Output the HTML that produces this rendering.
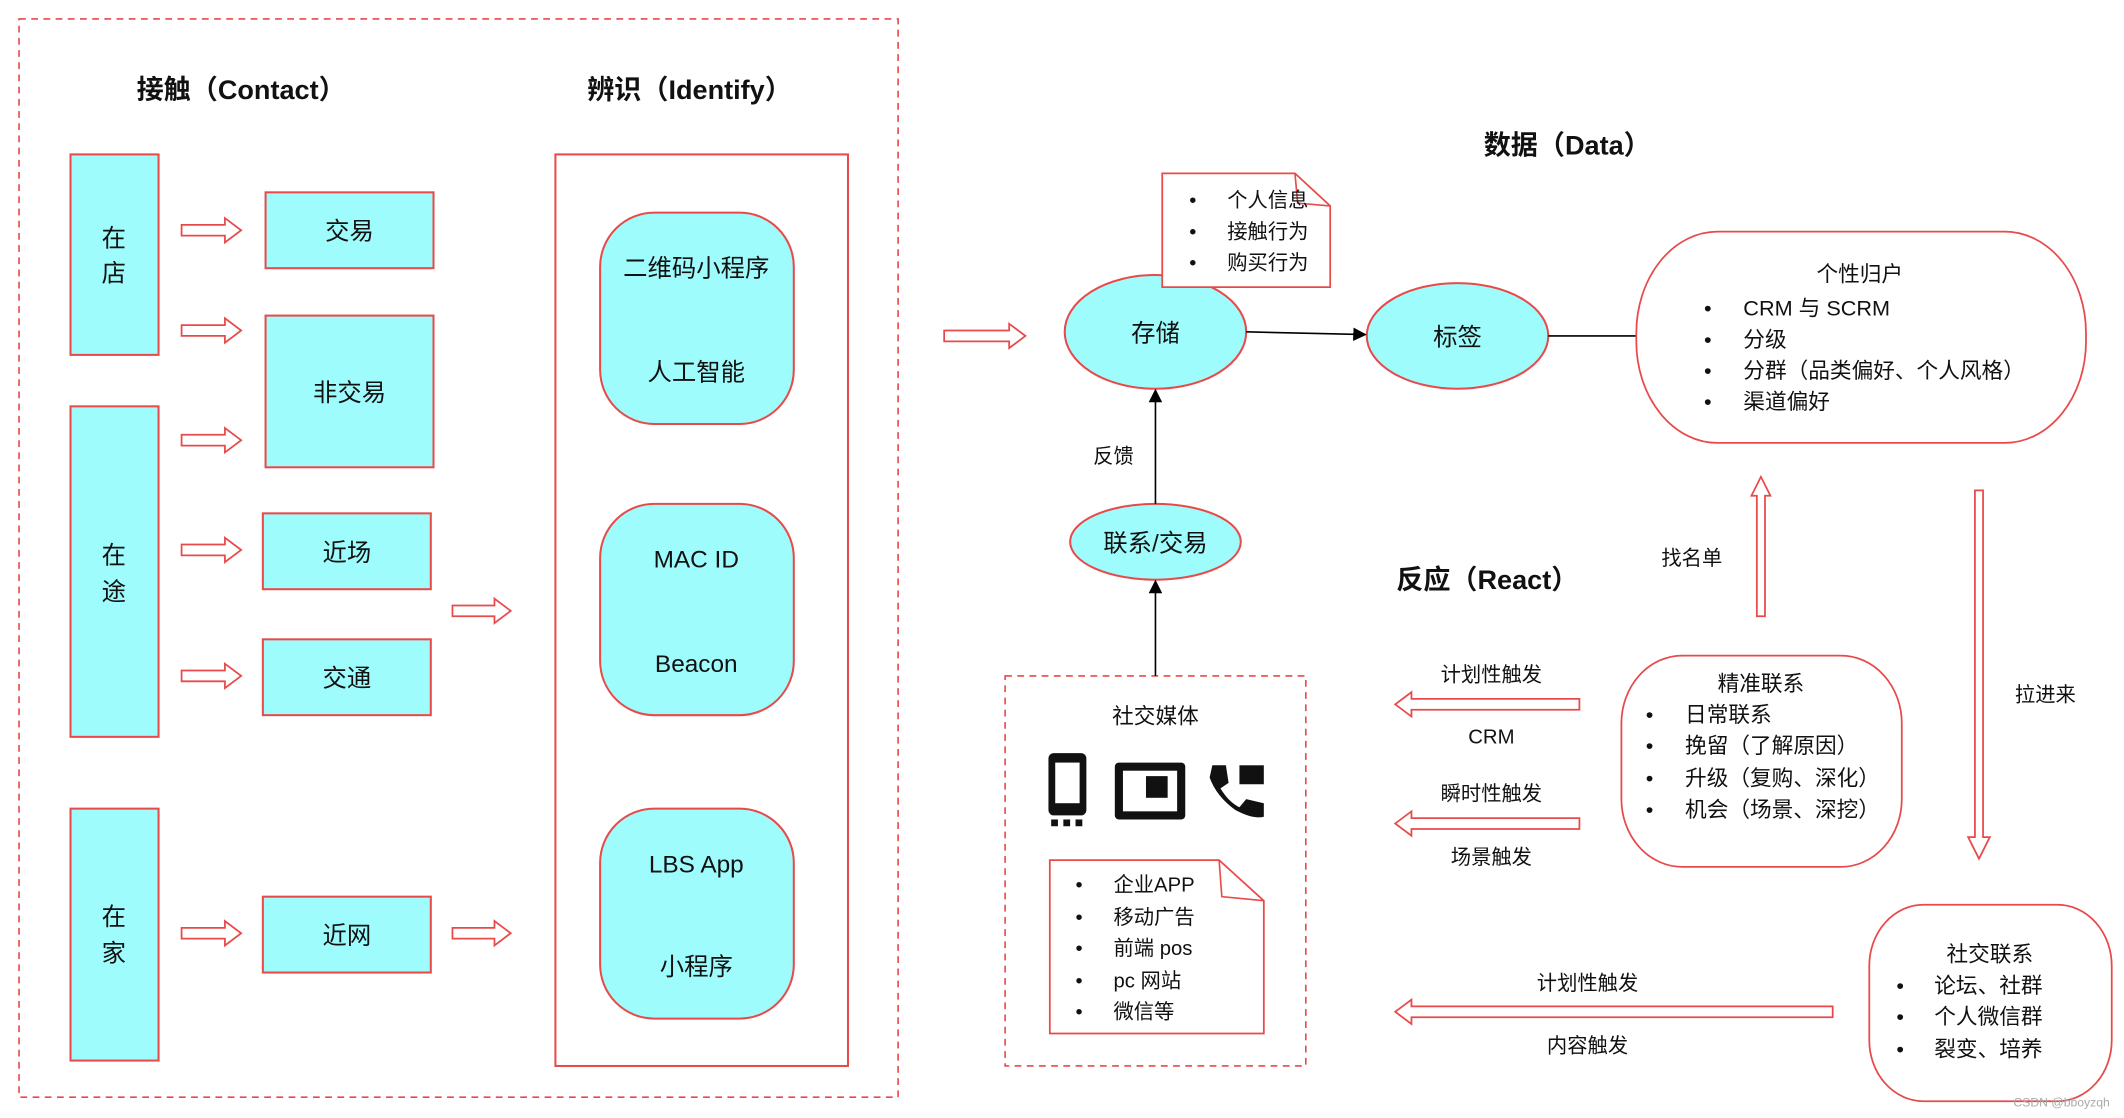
<!DOCTYPE html>
<html><head><meta charset="utf-8"><style>
html,body{margin:0;padding:0;background:#fff;}
svg{display:block;}
text{font-family:"Liberation Sans","Noto Sans CJK SC",sans-serif;fill:#111;}
</style></head><body>
<svg width="2124" height="1118" viewBox="0 0 1568 825.4" xmlns="http://www.w3.org/2000/svg">
<defs>
<marker id="ah" markerWidth="10" markerHeight="10" refX="9" refY="5" orient="auto" markerUnits="userSpaceOnUse"><path d="M0,0 L10,5 L0,10 z" fill="#000"/></marker>
</defs>
<g fill="none" stroke="#e84a4a" stroke-width="1.2">
<rect x="14" y="14" width="649" height="796" stroke-dasharray="5,4"/>
<rect x="742" y="499" width="222" height="288" stroke-dasharray="5,4"/>
</g>
<g font-size="20" font-weight="bold" text-anchor="middle">
<text x="178" y="73">接触（Contact）</text>
<text x="509" y="73">辨识（Identify）</text>
<text x="1157" y="114">数据（Data）</text>
<text x="1098" y="435">反应（React）</text>
</g>
<g fill="#9ffcfc" stroke="#e84a4a" stroke-width="1.5">
<rect x="52" y="114" width="65" height="148"/>
<rect x="52" y="300" width="65" height="244"/>
<rect x="52" y="597" width="65" height="186"/>
<rect x="196" y="142" width="124" height="56"/>
<rect x="196" y="233" width="124" height="112"/>
<rect x="194" y="379" width="124" height="56"/>
<rect x="194" y="472" width="124" height="56"/>
<rect x="194" y="662" width="124" height="56"/>
</g>
<rect x="410" y="114" width="216" height="673" fill="#fff" stroke="#e84a4a" stroke-width="1.5"/>
<g fill="#9ffcfc" stroke="#e84a4a" stroke-width="1.5">
<rect x="443" y="157" width="143" height="156" rx="40"/>
<rect x="443" y="372" width="143" height="156" rx="40"/>
<rect x="443" y="597" width="143" height="155" rx="40"/>
<ellipse cx="853" cy="245" rx="67" ry="42"/>
<ellipse cx="1076" cy="248" rx="67" ry="39"/>
<ellipse cx="853" cy="400" rx="63" ry="28"/>
</g>
<g font-size="18" text-anchor="middle">
<text x="84" y="182">在</text><text x="84" y="208">店</text>
<text x="84" y="416">在</text><text x="84" y="443">途</text>
<text x="84" y="683">在</text><text x="84" y="710">家</text>
<text x="258" y="177">交易</text>
<text x="258" y="296">非交易</text>
<text x="256" y="414">近场</text>
<text x="256" y="507">交通</text>
<text x="256" y="697">近网</text>
<text x="514" y="204">二维码小程序</text>
<text x="514" y="281">人工智能</text>
<text x="514" y="419">MAC ID</text>
<text x="514" y="496">Beacon</text>
<text x="514" y="644">LBS App</text>
<text x="514" y="720">小程序</text>
<text x="853" y="252">存储</text>
<text x="1076" y="255">标签</text>
<text x="853" y="407">联系/交易</text>
</g>
<!-- hollow arrows -->
<g fill="#fff" stroke="#e84a4a" stroke-width="1.3">
<path d="M134,166 L166,166 L166,161 L178,170 L166,179 L166,174 L134,174 Z"/>
<path d="M134,240 L166,240 L166,235 L178,244 L166,253 L166,248 L134,248 Z"/>
<path d="M134,321 L166,321 L166,316 L178,325 L166,334 L166,329 L134,329 Z"/>
<path d="M134,402 L166,402 L166,397 L178,406 L166,415 L166,410 L134,410 Z"/>
<path d="M134,495 L166,495 L166,490 L178,499 L166,508 L166,503 L134,503 Z"/>
<path d="M134,685 L166,685 L166,680 L178,689 L166,698 L166,693 L134,693 Z"/>
<path d="M334,447 L365,447 L365,442 L377,451 L365,460 L365,455 L334,455 Z"/>
<path d="M334,685 L365,685 L365,680 L377,689 L365,698 L365,693 L334,693 Z"/>
<path d="M697,244 L745,244 L745,239 L757,248 L745,257 L745,252 L697,252 Z"/>
<path d="M1166,516 L1042,516 L1042,511 L1030,520 L1042,529 L1042,524 L1166,524 Z"/>
<path d="M1166,604 L1042,604 L1042,599 L1030,608 L1042,617 L1042,612 L1166,612 Z"/>
<path d="M1353,743 L1042,743 L1042,738 L1030,747 L1042,756 L1042,751 L1353,751 Z"/>
<path d="M1297,455 L1297,366 L1293,366 L1300,352 L1307,366 L1303,366 L1303,455 Z"/>
<path d="M1458,362 L1458,618 L1453,618 L1461,634 L1469,618 L1464,618 L1464,362 Z"/>
</g>
<!-- data doc -->
<path d="M858,128 L956,128 L982,152 L982,212 L858,212 Z" fill="#fff" stroke="#e84a4a" stroke-width="1.3"/>
<path d="M956,128 L958,150 L982,152" fill="none" stroke="#e84a4a" stroke-width="1.2"/>
<g font-size="15">
<text x="878" y="153">•</text><text x="906" y="153">个人信息</text>
<text x="878" y="176">•</text><text x="906" y="176">接触行为</text>
<text x="878" y="199">•</text><text x="906" y="199">购买行为</text>
</g>
<g stroke="#000" stroke-width="1.2" fill="none">
<line x1="920" y1="245" x2="1008" y2="247" marker-end="url(#ah)"/>
<line x1="1143" y1="248" x2="1208" y2="248"/>
<line x1="853" y1="372" x2="853" y2="288" marker-end="url(#ah)"/>
<line x1="853" y1="499" x2="853" y2="429" marker-end="url(#ah)"/>
</g>
<text x="822" y="342" font-size="15" text-anchor="middle">反馈</text>
<!-- rounded big boxes -->
<g fill="#fff" stroke="#e84a4a" stroke-width="1.3">
<rect x="1208" y="171" width="332" height="156" rx="60" ry="75"/>
<rect x="1197" y="484" width="207" height="156" rx="45" ry="50"/>
<rect x="1380" y="668" width="179" height="145" rx="40" ry="45"/>
</g>
<g font-size="16">
<text x="1373" y="208" text-anchor="middle">个性归户</text>
<text x="1258" y="233">•</text><text x="1287" y="233">CRM 与 SCRM</text>
<text x="1258" y="256">•</text><text x="1287" y="256">分级</text>
<text x="1258" y="279">•</text><text x="1287" y="279">分群（品类偏好、个人风格）</text>
<text x="1258" y="302">•</text><text x="1287" y="302">渠道偏好</text>
<text x="1300" y="510" text-anchor="middle">精准联系</text>
<text x="1215" y="533">•</text><text x="1244" y="533">日常联系</text>
<text x="1215" y="556">•</text><text x="1244" y="556">挽留（了解原因）</text>
<text x="1215" y="580">•</text><text x="1244" y="580">升级（复购、深化）</text>
<text x="1215" y="603">•</text><text x="1244" y="603">机会（场景、深挖）</text>
<text x="1469" y="710" text-anchor="middle">社交联系</text>
<text x="1400" y="733">•</text><text x="1428" y="733">论坛、社群</text>
<text x="1400" y="756">•</text><text x="1428" y="756">个人微信群</text>
<text x="1400" y="780">•</text><text x="1428" y="780">裂变、培养</text>
</g>
<g font-size="15" text-anchor="middle">
<text x="1249" y="417">找名单</text>
<text x="1510" y="518">拉进来</text>
<text x="1101" y="503">计划性触发</text>
<text x="1101" y="549">CRM</text>
<text x="1101" y="591">瞬时性触发</text>
<text x="1101" y="638">场景触发</text>
<text x="1172" y="731">计划性触发</text>
<text x="1172" y="777">内容触发</text>
</g>
<!-- social media -->
<text x="853" y="534" font-size="16" text-anchor="middle">社交媒体</text>
<g fill="#111">
<rect x="774" y="556" width="28" height="46" rx="4"/>
<rect x="779" y="563" width="18" height="30" fill="#fff"/>
<rect x="776" y="605" width="5" height="5"/><rect x="785" y="605" width="5" height="5"/><rect x="794" y="605" width="5" height="5"/>
<rect x="823" y="563" width="52" height="42" rx="3"/>
<rect x="829" y="569" width="40" height="30" fill="#fff"/>
<rect x="846" y="573" width="16" height="16"/>
<path d="M895,565 L905,565 L907,578 L901,582 Q907,592 915,596 L920,590 L933,593 L933,603 Q925,605 912,598 Q898,588 893,574 Z"/>
<rect x="915" y="565" width="18" height="14"/>
</g>
<path d="M775,635 L900,635 L933,665 L933,763 L775,763 Z" fill="#fff" stroke="#e84a4a" stroke-width="1.3"/>
<path d="M900,635 L902,662 L933,665" fill="none" stroke="#e84a4a" stroke-width="1.2"/>
<g font-size="15">
<text x="794" y="658">•</text><text x="822" y="658">企业APP</text>
<text x="794" y="682">•</text><text x="822" y="682">移动广告</text>
<text x="794" y="705">•</text><text x="822" y="705">前端 pos</text>
<text x="794" y="729">•</text><text x="822" y="729">pc 网站</text>
<text x="794" y="752">•</text><text x="822" y="752">微信等</text>
</g>
<text x="1522" y="817" font-size="9" fill="#aaa" style="fill:#aaa" text-anchor="middle">CSDN @bboyzqh</text>
</svg>
</body></html>
